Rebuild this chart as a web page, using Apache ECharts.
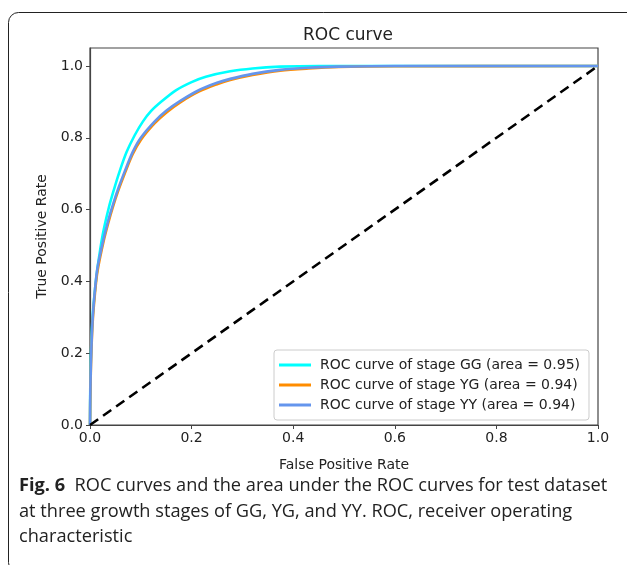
<!DOCTYPE html>
<html>
<head>
<meta charset="utf-8">
<script src="https://cdn.jsdelivr.net/npm/echarts@6/dist/echarts.min.js"></script>
<style>html,body{margin:0;padding:0;background:#fff;}#c{width:627px;height:565px;}</style>
</head>
<body>
<div id="c"></div>
<script>
const titleText = 'ROC curve';
const xName = 'False Positive Rate';
const yName = 'True Positive Rate';
const tickValues = [0, 0.2, 0.4, 0.6, 0.8, 1.0];
const seriesNames = ['ROC curve of stage GG (area = 0.95)', 'ROC curve of stage YG (area = 0.94)', 'ROC curve of stage YY (area = 0.94)'];
const fprGG = [0, 0.0005, 0.002, 0.005, 0.010, 0.015, 0.025, 0.037, 0.047, 0.058, 0.072, 0.088, 0.104, 0.12, 0.14, 0.169, 0.2, 0.228, 0.276, 0.32, 0.374, 0.45, 0.6, 1.0];
const tprGG = [0, 0.10, 0.20, 0.30, 0.38, 0.44, 0.53, 0.605, 0.655, 0.705, 0.76, 0.807, 0.845, 0.874, 0.90, 0.932, 0.955, 0.97, 0.985, 0.993, 0.998, 1.0, 1.0, 1.0];
const fprYG = [0, 0.0005, 0.002, 0.005, 0.010, 0.015, 0.027, 0.036, 0.045, 0.056, 0.068, 0.084, 0.10, 0.127, 0.15, 0.177, 0.215, 0.25, 0.276, 0.32, 0.374, 0.43, 0.49, 0.6, 1.0];
const tprYG = [0, 0.07, 0.17, 0.28, 0.37, 0.43, 0.513, 0.563, 0.607, 0.654, 0.699, 0.754, 0.794, 0.840, 0.870, 0.898, 0.929, 0.949, 0.961, 0.975, 0.987, 0.993, 0.997, 0.999, 1.0];
const fprYY = [0, 0.0005, 0.002, 0.005, 0.010, 0.015, 0.027, 0.036, 0.045, 0.056, 0.068, 0.084, 0.10, 0.127, 0.15, 0.177, 0.215, 0.25, 0.276, 0.32, 0.374, 0.43, 0.49, 0.6, 1.0];
const tprYY = [0, 0.08, 0.18, 0.29, 0.38, 0.44, 0.52, 0.57, 0.613, 0.66, 0.705, 0.76, 0.80, 0.845, 0.875, 0.902, 0.933, 0.953, 0.964, 0.978, 0.989, 0.995, 0.998, 1.0, 1.0];
const diagX = [0, 1];
const diagY = [0, 1];
const captionLines = [
  ['Fig. 6', '  ROC curves and the area under the ROC curves for test dataset'],
  ['', 'at three growth stages of GG, YG, and YY. ROC, receiver operating'],
  ['', 'characteristic']
];

const zip = (a, b) => a.map((v, i) => [v, b[i]]);
const font = 'DejaVu Sans';
const chart = echarts.init(document.getElementById('c'), null, {renderer: 'canvas'});

const graphics = [
  {type: 'rect', shape: {x: 8.5, y: 12.5, width: 660, height: 560, r: 10}, style: {fill: 'none', stroke: '#222', lineWidth: 1}, silent: true}
];
captionLines.forEach((ln, i) => {
  graphics.push({
    type: 'text', left: 19, top: 477 + i * 25.5,
    style: {
      text: (ln[0] ? '{b|' + ln[0] + '}' : '') + '{n|' + ln[1] + '}',
      rich: {
        b: {fontFamily: 'Open Sans', fontWeight: 'bold', fontSize: 18.2, fill: '#222'},
        n: {fontFamily: 'Open Sans', fontSize: 18.2, fill: '#222'}
      }
    }
  });
});

const lineSeries = (name, x, y, color, z) => ({
  name: name, type: 'line', data: zip(x, y), smooth: 0.3, showSymbol: false,
  lineStyle: {color: color, width: 2.6}, itemStyle: {color: color}, z: z
});

chart.setOption({
  animation: false,
  backgroundColor: '#fff',
  title: {text: titleText, left: 343, top: 22, textAlign: 'center', textStyle: {fontFamily: font, fontSize: 17, fontWeight: 'normal', color: '#222'}},
  grid: {left: 90, right: 29, top: 48, bottom: 140, show: true, borderColor: '#444', borderWidth: 1.2, backgroundColor: 'transparent'},
  xAxis: {
    type: 'value', min: 0, max: 1, interval: 0.2,
    name: xName, nameLocation: 'middle', nameGap: 33,
    nameTextStyle: {fontFamily: font, fontSize: 14, color: '#222'},
    axisLine: {show: true, lineStyle: {color: '#444', width: 1.2}},
    axisTick: {show: true, length: 4, lineStyle: {color: '#444'}},
    axisLabel: {fontFamily: font, fontSize: 14, color: '#222', margin: 6, formatter: v => v.toFixed(1)},
    splitLine: {show: false}
  },
  yAxis: {
    type: 'value', min: 0, max: 1.05,
    name: yName, nameLocation: 'middle', nameGap: 41,
    nameTextStyle: {fontFamily: font, fontSize: 14, color: '#222'},
    axisLine: {show: true, lineStyle: {color: '#444', width: 1.2}},
    axisTick: {show: true, length: 4, lineStyle: {color: '#444'}, customValues: tickValues},
    axisLabel: {fontFamily: font, fontSize: 14, color: '#222', margin: 7, customValues: tickValues, formatter: v => v.toFixed(1)},
    splitLine: {show: false}
  },
  legend: {
    data: seriesNames, orient: 'vertical', left: 274, top: 350,
    itemWidth: 32, itemHeight: 3, itemGap: 6, icon: 'rect',
    padding: [8, 9, 8, 5],
    backgroundColor: 'rgba(255,255,255,0.85)', borderColor: '#ccc', borderWidth: 1, borderRadius: 3,
    textStyle: {fontFamily: font, fontSize: 14, color: '#222', padding: [0, 0, 0, 4]}
  },
  graphic: graphics,
  series: [
    lineSeries(seriesNames[0], fprGG, tprGG, '#00FFFF', 3),
    lineSeries(seriesNames[1], fprYG, tprYG, '#FF8C00', 4),
    lineSeries(seriesNames[2], fprYY, tprYY, '#6495ED', 5),
    {name: 'diag', type: 'line', data: zip(diagX, diagY), showSymbol: false, lineStyle: {color: '#000', width: 2.6, type: [10, 6]}, z: 6}
  ]
});
</script>
</body>
</html>
